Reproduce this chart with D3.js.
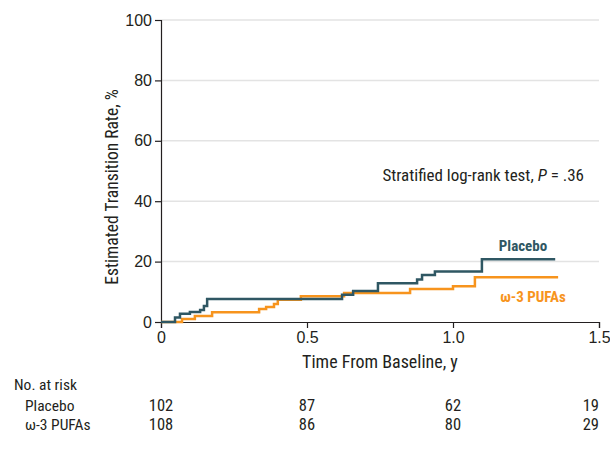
<!DOCTYPE html>
<html>
<head>
<meta charset="utf-8">
<script src="https://cdn.jsdelivr.net/npm/d3@7.9.0/dist/d3.min.js"></script>
<style>
  body { margin: 0; background: #fff; }
  svg text { font-family: "Liberation Sans Narrow", "Roboto Condensed", "Noto Sans", sans-serif; fill: #231f20; }
</style>
</head>
<body>
<div id="chart"></div>
<script>
// ---- data ----
const placeboTimes = [0, 0.048, 0.065, 0.099, 0.134, 0.147, 0.158, 0.62, 0.658, 0.743, 0.877, 0.894, 0.938, 1.099, 1.35];
const placeboRates = [0, 1.5, 2.7, 3.3, 4.0, 5.3, 7.6, 9.0, 10.3, 12.8, 14.1, 15.6, 16.7, 20.8, 20.8];
const pufaTimes = [0, 0.072, 0.116, 0.175, 0.336, 0.36, 0.387, 0.40, 0.479, 0.627, 0.853, 1.0, 1.075, 1.36];
const pufaRates = [0, 1.0, 2.0, 3.2, 4.3, 5.0, 6.0, 7.4, 8.5, 9.6, 10.9, 11.8, 14.8, 14.8];

const xTicks = [0, 0.5, 1.0, 1.5];
const yTicks = [0, 20, 40, 60, 80, 100];
const riskGroups = ['Placebo', 'ω-3 PUFAs'];
const riskPlacebo = [102, 87, 62, 19];
const riskPufa = [108, 86, 80, 29];

const W = 610, H = 449;
const margin = { left: 161, right: 11, top: 20, bottom: 127 };
const placeboColor = '#2f5763';
const pufaColor = '#f7941d';

const svg = d3.select('#chart').append('svg')
  .attr('width', W).attr('height', H);

const x = d3.scaleLinear().domain([0, 1.5]).range([margin.left, W - margin.right]);
const y = d3.scaleLinear().domain([0, 100]).range([H - margin.bottom, margin.top]);

// gridlines
svg.append('g').selectAll('line')
  .data(yTicks.filter(d => d > 0))
  .join('line')
  .attr('x1', x(0)).attr('x2', x(1.5))
  .attr('y1', d => y(d)).attr('y2', d => y(d))
  .attr('stroke', '#e3e3e3').attr('stroke-width', 1.5);

// axes
const yAxis = svg.append('g')
  .attr('transform', `translate(${x(0)},0)`)
  .call(d3.axisLeft(y).tickValues(yTicks).tickSize(6).tickPadding(3));
const xAxis = svg.append('g')
  .attr('transform', `translate(0,${y(0)})`)
  .call(d3.axisBottom(x).tickValues(xTicks).tickSize(6).tickPadding(4)
    .tickFormat(d => d === 0 ? '0' : d3.format('.1f')(d)));
[yAxis, xAxis].forEach(a => {
  a.select('.domain').attr('stroke', '#231f20').attr('stroke-width', 1.2);
  a.selectAll('.tick line').attr('stroke', '#231f20').attr('stroke-width', 1.2);
  a.selectAll('.tick text').attr('font-size', 16).attr('fill', '#231f20')
    .style('font-family', '"Liberation Sans Narrow", sans-serif');
});

// axis titles
svg.append('text')
  .attr('transform', `translate(118,${(y(0) + y(100)) / 2 + 16}) rotate(-90)`)
  .attr('text-anchor', 'middle').attr('font-size', 17.5)
  .text('Estimated Transition Rate, %');
svg.append('text')
  .attr('x', (x(0) + x(1.5)) / 2).attr('y', 368)
  .attr('text-anchor', 'middle').attr('font-size', 18)
  .text('Time From Baseline, y');

// step curves
const line = d3.line().x(d => x(d[0])).y(d => y(d[1])).curve(d3.curveStepAfter);
svg.append('path')
  .datum(d3.zip(pufaTimes, pufaRates))
  .attr('d', line).attr('fill', 'none')
  .attr('stroke', pufaColor).attr('stroke-width', 2.5);
svg.append('path')
  .datum(d3.zip(placeboTimes, placeboRates))
  .attr('d', line).attr('fill', 'none')
  .attr('stroke', placeboColor).attr('stroke-width', 2.5);

// labels
svg.append('text')
  .attr('x', 523).attr('y', 251).attr('text-anchor', 'middle')
  .attr('font-size', 15).attr('font-weight', 'bold')
  .style('fill', placeboColor).text('Placebo');
svg.append('text')
  .attr('x', 533).attr('y', 302).attr('text-anchor', 'middle')
  .attr('font-size', 15).attr('font-weight', 'bold')
  .style('fill', pufaColor).text('ω-3 PUFAs');

const ann = svg.append('text')
  .attr('x', 584).attr('y', 181).attr('text-anchor', 'end').attr('font-size', 17);
ann.append('tspan').text('Stratified log-rank test, ');
ann.append('tspan').attr('font-style', 'italic').text('P');
ann.append('tspan').text(' = .36');

// number at risk
svg.append('text').attr('x', 14).attr('y', 390).attr('font-size', 15.5).text('No. at risk');
[riskPlacebo, riskPufa].forEach((row, i) => {
  const yy = 411 + i * 19;
  svg.append('text').attr('x', 25).attr('y', yy).attr('font-size', 15.5).text(riskGroups[i]);
  svg.append('g').selectAll('text')
    .data(row)
    .join('text')
    .attr('x', (d, j) => x(xTicks[j]))
    .attr('y', yy)
    .attr('text-anchor', (d, j) => j === row.length - 1 ? 'end' : 'middle')
    .attr('font-size', 16.5)
    .text(d => d);
});
</script>
</body>
</html>
